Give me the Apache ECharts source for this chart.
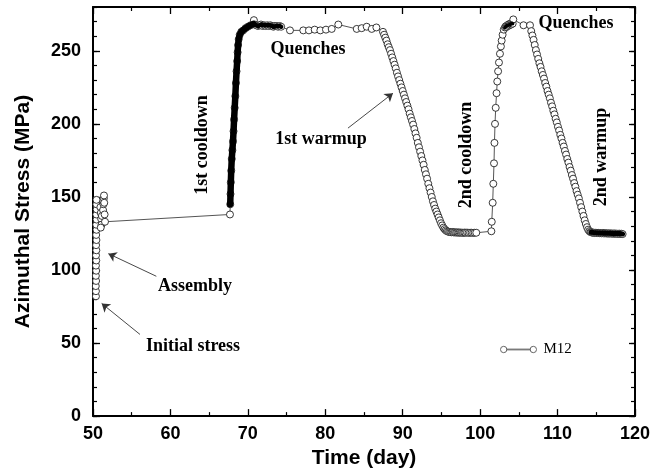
<!DOCTYPE html>
<html><head><meta charset="utf-8">
<script src="https://cdn.jsdelivr.net/npm/echarts@6/dist/echarts.min.js"></script>
<style>html,body{margin:0;padding:0;background:#fff}#c{width:664px;height:474px}</style>
</head><body><div id="c"></div><script>
// ---- data (day, azimuthal stress MPa) ----
const xTicks = [50, 60, 70, 80, 90, 100, 110, 120];
const yTicks = [0, 50, 100, 150, 200, 250];
const yMax = 280;
const seriesName = 'M12';

const assembly = [
[50.38,82],[50.38,85.5],[50.36,89],[50.4,92.5],[50.37,96],[50.41,99.5],[50.38,103],[50.42,106.5],[50.39,110],[50.43,113.5],
[50.4,117],[50.44,120.5],[50.41,124],[50.45,127.5],[50.42,131],[50.46,134.5],[50.43,138],[50.47,141.5],[50.44,145],[50.45,148],
[50.95,143],[51.0,139],[51.05,135],[51.1,131],[51.0,129],[51.15,137],[51.3,141],[51.35,145],[51.4,149],[51.42,151],
[51.45,146],[51.5,138],[51.55,133]
];
const cooldown1 = [
[67.69,138],[67.72,145],[67.76,152],[67.8,160],[67.85,168],[67.92,176],[68.0,182],[68.08,188],[68.15,195],[68.22,203],
[68.3,211],[68.38,219],[68.46,228],[68.54,236],[68.62,243],[68.68,249],[68.74,254],[68.82,258],[68.95,261],[69.15,263],
[69.4,264],[69.7,265.5],[70.0,266.5],[70.35,267.5],[70.7,268.5]
];
const quench1Dense = [
[70.78,271],[70.9,268],[71.1,267.5],[71.3,267],[71.5,267.5],[71.7,268],[71.9,267],[72.1,267.5],[72.3,267],[72.5,267.5],
[72.7,267],[72.9,267.5],[73.1,267],[73.3,266.5],[73.5,267],[73.7,267],[73.9,266.5],[74.1,267],[74.3,266.5]
];
const quench1Sparse = [
[75.44,264],[77.16,264],[77.89,264],[78.63,264.5],[79.36,264],[80.09,264.5],[80.83,265],[81.68,268],
[84.06,265],[84.7,265.5],[85.35,266.5],[86.0,265],[86.6,266]
];
const warmup1 = [
[87.45,263],[87.6,261],[87.75,259],[87.9,257],[88.05,254.5],[88.2,252.5],[88.35,250.5],[88.5,248],[88.65,245.5],[88.8,243],
[88.95,240.5],[89.1,238],[89.25,235],[89.4,232.5],[89.55,230],[89.7,227.5],[89.85,225],[90.0,222.5],[90.15,220],[90.3,217.5],
[90.45,215],[90.6,212.5],[90.75,210],[90.9,207],[91.05,204.5],[91.2,202],[91.35,199.5],[91.5,196.5],[91.65,193.5],[91.8,190.5],
[91.95,187],[92.1,184],[92.25,181],[92.4,178],[92.55,175],[92.7,172],[92.85,168.5],[93.0,165.5],[93.15,162.5],[93.3,159],
[93.45,156],[93.6,153],[93.75,150],[93.9,147],[94.05,144.5],[94.2,142],[94.35,140],[94.5,138],[94.65,136],[94.8,134],
[94.95,132],[95.1,130.5],[95.25,129],[95.4,128],[95.55,127.2],[95.7,126.6]
];
const base1 = [
[95.85,126.3],[96.0,126],[96.15,126],[96.3,125.8],[96.45,126],[96.6,125.7],[96.75,125.8],[96.9,125.6],[97.05,125.8],[97.2,125.5],
[97.35,125.7],[97.5,125.5],[97.65,125.6],[97.8,125.4],[97.95,125.6],[98.1,125.5],[98.3,125.6],[98.5,125.4],[98.7,125.5],[98.9,125.5],
[99.1,125.4],[99.3,125.5],[99.5,125.5]
];
const cooldown2 = [
[101.45,126.5],[101.5,133],[101.62,146],[101.7,159],[101.79,173],[101.85,187],[101.92,200],[102.01,211],[102.12,221],[102.21,229],
[102.32,236],[102.43,242],[102.56,248],[102.68,253],[102.78,257],[102.9,261],[103.05,264.5]
];
const quench2Dense = [
[103.2,266],[103.3,266.8],[103.4,266.3],[103.5,267.5],[103.6,267],[103.7,268.2],[103.8,267.6],[103.9,268.6],[104.0,268],[104.1,269],
[104.2,268.6]
];
const quench2Sparse = [
[104.28,271.5],[105.6,267.5],[106.44,267.5]
];
const warmup2 = [
[106.6,263.5],[106.75,260.5],[106.9,257.5],[107.05,254],[107.2,250.5],[107.35,247.5],[107.5,244.5],[107.65,241.5],[107.8,239],[107.95,236],
[108.1,233.5],[108.25,231],[108.4,228],[108.55,225.5],[108.7,222.5],[108.85,220],[109.0,217.5],[109.15,214.5],[109.3,212],[109.45,209],
[109.6,206.5],[109.75,203.5],[109.9,201],[110.05,198],[110.2,195.5],[110.35,192.5],[110.5,190],[110.65,187],[110.8,184.5],[110.95,181.5],
[111.1,179],[111.25,176],[111.4,173.5],[111.55,170.5],[111.7,168],[111.85,165],[112.0,162.5],[112.15,159.5],[112.3,157],[112.45,154],
[112.6,151.5],[112.75,149],[112.9,146],[113.05,143],[113.2,140],[113.35,137],[113.5,134],[113.65,131.5],[113.8,129.3],[113.95,127.6],
[114.1,126.6],[114.25,126]
];
const base2 = [
[114.35,125.8],[114.5,125.5],[114.65,125.6],[114.8,125.3],[114.95,125.5],[115.1,125.2],[115.25,125.4],[115.4,125.2],[115.55,125.3],[115.7,125.1],
[115.85,125.3],[116.0,125.0],[116.15,125.2],[116.3,125.0],[116.45,125.1],[116.6,124.9],[116.75,125.1],[116.9,124.9],[117.05,125.0],[117.2,124.8],
[117.35,125.0],[117.5,124.8],[117.65,124.9],[117.8,124.7],[117.95,124.9],[118.1,124.7],[118.25,124.8],[118.4,124.6]
];

const allPoints = [].concat(assembly, cooldown1, quench1Dense, quench1Sparse, warmup1, base1,
  cooldown2, quench2Dense, quench2Sparse, warmup2, base2);

// ---- chart ----
const chart = echarts.init(document.getElementById('c'), null, {renderer: 'canvas'});
const sans = 'Liberation Sans';
const serif = 'Liberation Serif';
const xMin = xTicks[0], xMax = xTicks[xTicks.length - 1], xStep = xTicks[1] - xTicks[0];
const yStep = yTicks[1] - yTicks[0];

function bandSeries(data, width) {
  return {type: 'line', data: data, symbol: 'none', silent: true, z: 5,
    lineStyle: {color: '#000', width: width, cap: 'round', join: 'round'}, animation: false};
}
function note(text, x, y, rot) {
  return {type: 'text', x: x, y: y, rotation: rot || 0, z: 20,
    style: {text: text, font: 'bold 18px "' + serif + '"', fill: '#000', align: 'center', verticalAlign: 'middle'}};
}

const option = {
  animation: false,
  backgroundColor: '#fff',
  grid: {left: 93, right: 29, top: 7, bottom: 57, containLabel: false},
  legend: {
    data: [{name: seriesName, icon: 'path://M1,4a3,3 0 1,0 6,0a3,3 0 1,0 -6,0Z M7,3.65L29,3.65L29,4.35L7,4.35Z M29,4a3,3 0 1,0 6,0a3,3 0 1,0 -6,0Z'}],
    left: 495, top: 337, itemWidth: 36, itemHeight: 8, itemGap: 4,
    itemStyle: {color: '#fff', borderColor: '#666', borderWidth: 1},
    textStyle: {fontFamily: serif, fontSize: 15, color: '#000', padding: [0, 0, 0, 2]}
  },
  xAxis: [
    {type: 'value', position: 'bottom', min: xMin, max: xMax, interval: xStep,
     name: 'Time (day)', nameLocation: 'middle', nameGap: 24,
     nameTextStyle: {fontFamily: sans, fontWeight: 'bold', fontSize: 21, color: '#000'},
     axisLine: {onZero: false, lineStyle: {color: '#000', width: 2}},
     axisTick: {inside: true, length: 7, lineStyle: {color: '#000', width: 1.3}},
     minorTick: {show: true, splitNumber: 2, length: 4, lineStyle: {color: '#000', width: 1.2}},
     axisLabel: {fontFamily: sans, fontWeight: 'bold', fontSize: 18, color: '#000', margin: 9},
     splitLine: {show: false}},
    {type: 'value', position: 'top', min: xMin, max: xMax, interval: xStep,
     axisLine: {onZero: false, lineStyle: {color: '#000', width: 2}},
     axisTick: {inside: true, length: 7, lineStyle: {color: '#000', width: 1.3}},
     minorTick: {show: true, splitNumber: 2, length: 4, lineStyle: {color: '#000', width: 1.2}},
     axisLabel: {show: false}, splitLine: {show: false}}
  ],
  yAxis: [
    {type: 'value', position: 'left', min: yTicks[0], max: yMax, interval: yStep,
     name: 'Azimuthal Stress (MPa)', nameLocation: 'middle', nameGap: 59, nameRotate: 90,
     nameTextStyle: {fontFamily: sans, fontWeight: 'bold', fontSize: 21, color: '#000'},
     axisLine: {onZero: false, lineStyle: {color: '#000', width: 2}},
     axisTick: {inside: true, length: 7, lineStyle: {color: '#000', width: 1.3}},
     axisLabel: {fontFamily: sans, fontWeight: 'bold', fontSize: 18, color: '#000', margin: 12, showMaxLabel: false},
     splitLine: {show: false}},
    {type: 'value', position: 'left', min: yTicks[0], max: yMax, interval: yStep / 5,
     axisLine: {show: false}, axisLabel: {show: false}, splitLine: {show: false},
     axisTick: {inside: true, length: 4, lineStyle: {color: '#000', width: 1.2}}},
    {type: 'value', position: 'right', min: yTicks[0], max: yMax, interval: yStep / 5,
     axisLine: {onZero: false, lineStyle: {color: '#000', width: 2}}, axisLabel: {show: false}, splitLine: {show: false},
     axisTick: {inside: true, length: 4, lineStyle: {color: '#000', width: 1.2}}},
    {type: 'value', position: 'right', min: yTicks[0], max: yMax, interval: yStep,
     axisLine: {show: false}, axisLabel: {show: false}, splitLine: {show: false},
     axisTick: {inside: true, length: 6, lineStyle: {color: '#000', width: 1.3}}}
  ],
  series: [
    {name: seriesName, type: 'line', data: allPoints, xAxisIndex: 0, yAxisIndex: 0,
     symbol: 'circle', symbolSize: 7, showAllSymbol: true, sampling: null, z: 3,
     itemStyle: {color: '#fff', borderColor: '#222', borderWidth: 0.9},
     lineStyle: {color: '#555', width: 1},
     markLine: {
       silent: true, symbol: ['none', 'arrow'], symbolSize: 8,
       itemStyle: {color: '#333'},
       lineStyle: {color: '#333', width: 0.9, type: 'solid'}, label: {show: false},
       emphasis: {disabled: true},
       data: [
         [{coord: [58.18, 95.7]}, {coord: [51.98, 111.2]}],
         [{coord: [56.07, 55.9]}, {coord: [51.12, 77.1]}],
         [{coord: [82.93, 197.1]}, {coord: [88.74, 221.0]}]
       ]
     }},
    bandSeries(cooldown1.slice(1), 6.5),
    bandSeries(quench1Dense.slice(1), 4.5),
    bandSeries(quench2Dense, 3.5),
    bandSeries(base2, 5)
  ],
  graphic: [
    note('1st cooldown', 202, 145, Math.PI / 2),
    note('Quenches', 308, 49),
    note('1st warmup', 321, 139),
    note('2nd cooldown', 466, 155, Math.PI / 2),
    note('Quenches', 576, 23),
    note('2nd warmup', 601, 157, Math.PI / 2),
    note('Assembly', 195, 286),
    note('Initial stress', 193, 346)
  ]
};
chart.setOption(option);
</script></body></html>
